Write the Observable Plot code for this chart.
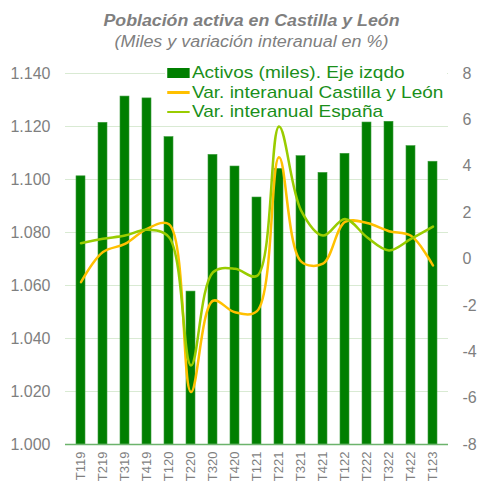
<!DOCTYPE html>
<html>
<head>
<meta charset="utf-8">
<script src="https://cdn.jsdelivr.net/npm/d3@7"></script>
<script src="https://cdn.jsdelivr.net/npm/@observablehq/plot@0.6"></script>
<style>
  html, body { margin: 0; padding: 0; background: #fff; }
  body { width: 481px; height: 484px; overflow: hidden; position: relative; font-family: "Liberation Sans", Arial, sans-serif; }
  #title { position: absolute; left: 11px; top: 0; width: 481px; height: 58px; text-align: center; color: #7f7f7f; font-style: italic; }
  #title .t1 { position: absolute; left: 0; width: 100%; top: 12px; font-size: 16px; font-weight: bold; transform: scaleX(1.11); transform-origin: 240.5px 0; }
  #title .t2 { position: absolute; left: 0; width: 100%; top: 33px; font-size: 16px; transform: scaleX(1.12); transform-origin: 240.5px 0; }
  #chart { position: absolute; left: 0; top: 58px; }
  #legend { position: absolute; left: 165px; top: 63px; width: 282px; height: 58px; background: #fff; }
  #legend .inner { transform: scaleX(1.12); transform-origin: 0 0; color: #1a8f1a; font-size: 17px; line-height: 19.5px; padding-left: 2px; }
  #legend .row { display: flex; align-items: center; white-space: nowrap; }
  #legend .sw { width: 20px; margin-right: 2px; }
</style>
</head>
<body>
<div id="title"><div class="t1">Población activa en Castilla y León</div><div class="t2">(Miles y variación interanual en %)</div></div>
<div id="chart"></div>
<div id="legend"><div class="inner">
  <div class="row"><span class="sw" style="height:10px;background:#007f00"></span>Activos (miles). Eje izqdo</div>
  <div class="row"><span class="sw" style="height:2.5px;background:#ffc000"></span>Var. interanual Castilla y León</div>
  <div class="row"><span class="sw" style="height:2.5px;background:#99cc00"></span>Var. interanual España</div>
</div></div>
<script>
const quarters = ["T119","T219","T319","T419","T120","T220","T320","T420","T121","T221","T321","T421","T122","T222","T322","T422","T123"];
const activos = [1101.2,1121.4,1131.3,1130.6,1116.0,1057.7,1109.3,1104.9,1093.2,1104.0,1108.8,1102.5,1109.7,1121.5,1121.8,1112.6,1106.7];
const varCyL = [-1.0,0.3,0.65,1.3,1.5,-5.74,-1.8,-2.3,-2.25,4.39,-0.1,-0.2,1.6,1.55,1.2,1.0,-0.28];
const varEsp = [0.68,0.87,1.01,1.26,0.94,-4.59,-0.57,-0.42,-0.73,5.71,2.1,1.01,1.73,0.94,0.37,0.87,1.4];
const leftTicks = [1000,1020,1040,1060,1080,1100,1120,1140];
const rightTicks = [-8,-6,-4,-2,0,2,4,6,8];

// right axis (percent) mapped onto left scale: -8..8 -> 1000..1140
const toLeft = v => 1070 + v * 140 / 16;
const fromLeft = y => Math.round((y - 1070) * 16 / 140);

const bars = quarters.map((q, i) => ({q, v: activos[i]}));
const cyl = quarters.map((q, i) => ({q, v: toLeft(varCyL[i])}));
const esp = quarters.map((q, i) => ({q, v: toLeft(varEsp[i])}));
const fmtThousands = d => String(d).replace(/\B(?=(\d{3})+$)/, ".");

const chart = Plot.plot({
  width: 481,
  height: 426,
  marginLeft: 65,
  marginRight: 33,
  marginTop: 15,
  marginBottom: 40,
  style: {fontFamily: "'Liberation Sans', Arial, sans-serif", color: "#7f7f7f", background: "transparent"},
  x: {domain: quarters, paddingInner: 0.6, paddingOuter: 0.3, align: 0.5},
  y: {domain: [1000, 1140]},
  marks: [
    Plot.gridY(leftTicks, {stroke: "#d9ead3", strokeOpacity: 1, strokeWidth: 1}),
    Plot.barY(bars, {x: "q", y1: 1000, y2: "v", fill: "#007f00", stroke: "#3c9c3c", strokeWidth: 0.6}),
    Plot.ruleY([1000], {stroke: "#6cb36c", strokeWidth: 1.5}),
    Plot.line(cyl, {x: "q", y: "v", stroke: "#ffc000", strokeWidth: 2.5, curve: "catmull-rom"}),
    Plot.line(esp, {x: "q", y: "v", stroke: "#99cc00", strokeWidth: 2.5, curve: "catmull-rom"}),
    Plot.axisY(leftTicks, {anchor: "left", tickSize: 0, tickPadding: 15, tickFormat: fmtThousands, fontSize: 16, fill: "#7f7f7f", label: null}),
    Plot.axisY(rightTicks.map(toLeft), {anchor: "right", tickSize: 0, tickPadding: 14, tickFormat: d => String(fromLeft(d)), fontSize: 16, fill: "#7f7f7f", textAnchor: "start", label: null}),
    Plot.axisX({anchor: "bottom", tickSize: 0, tickPadding: 7, tickRotate: -90, fontSize: 13, fill: "#7f7f7f", label: null})
  ]
});
document.getElementById("chart").appendChild(chart);
</script>
</body>
</html>
